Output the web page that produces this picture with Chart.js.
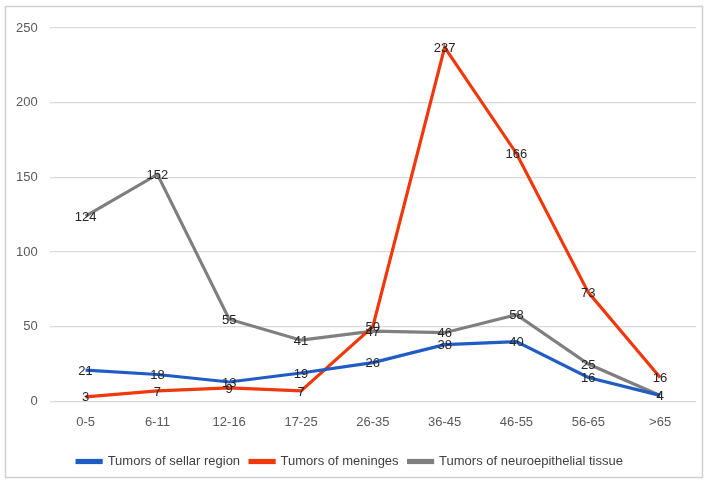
<!DOCTYPE html>
<html>
<head>
<meta charset="utf-8">
<script src="https://cdn.jsdelivr.net/npm/chart.js@4/dist/chart.umd.min.js"></script>
<style>
  html, body { margin: 0; padding: 0; background: #fff; }
  #wrap { position: relative; width: 708px; height: 484px; }
</style>
</head>
<body>
<div id="wrap"><canvas id="c" width="708" height="484"></canvas></div>
<script>
const ageGroups = ['0-5', '6-11', '12-16', '17-25', '26-35', '36-45', '46-55', '56-65', '>65'];
const sellarRegion = [21, 18, 13, 19, 26, 38, 40, 16, 4];
const meninges = [3, 7, 9, 7, 50, 237, 166, 73, 16];
const neuroepithelial = [124, 152, 55, 41, 47, 46, 58, 25, 4];
const yTicks = [0, 50, 100, 150, 200, 250];

const FONT = "'Liberation Sans', Arial, sans-serif";

// Frame around the whole chart
const framePlugin = {
  id: 'frame',
  beforeDraw(chart) {
    const ctx = chart.ctx;
    ctx.save();
    ctx.fillStyle = '#fff';
    ctx.fillRect(0, 0, chart.width, chart.height);
    ctx.strokeStyle = '#d0d0d0';
    ctx.lineWidth = 1.5;
    ctx.strokeRect(5.5, 6.5, 697, 471);
    ctx.restore();
  }
};

// Value labels centred on each point
const valueLabels = {
  id: 'valueLabels',
  afterDatasetsDraw(chart) {
    const ctx = chart.ctx;
    ctx.save();
    ctx.font = '13px ' + FONT;
    ctx.fillStyle = '#262626';
    ctx.textAlign = 'center';
    ctx.textBaseline = 'middle';
    chart.data.datasets.forEach((ds, i) => {
      const meta = chart.getDatasetMeta(i);
      meta.data.forEach((pt, j) => {
        ctx.fillText(String(ds.data[j]), pt.x, pt.y + 1);
      });
    });
    ctx.restore();
  }
};

new Chart(document.getElementById('c'), {
  type: 'line',
  data: {
    labels: ageGroups,
    datasets: [
      { label: 'Tumors of sellar region', data: sellarRegion, borderColor: '#1f5cc4', backgroundColor: '#1f5cc4' },
      { label: 'Tumors of meninges', data: meninges, borderColor: '#f0380c', backgroundColor: '#f0380c' },
      { label: 'Tumors of neuroepithelial tissue', data: neuroepithelial, borderColor: '#7f7f7f', backgroundColor: '#7f7f7f' }
    ].map(d => Object.assign(d, { borderWidth: 3.2, pointRadius: 0, tension: 0, fill: false }))
  },
  options: {
    responsive: false,
    animation: false,
    devicePixelRatio: 1,
    layout: { padding: { left: 4, right: 12, top: 28, bottom: 6 } },
    plugins: {
      legend: {
        position: 'bottom',
        labels: {
          font: { family: FONT, size: 13 },
          color: '#404040',
          boxWidth: 24,
          boxHeight: 2,
          padding: 10
        }
      },
      tooltip: { enabled: false }
    },
    scales: {
      x: {
        offset: true,
        grid: { display: false },
        border: { display: false },
        ticks: { font: { family: FONT, size: 13 }, color: '#595959', padding: 5 },
        afterFit(scale) { scale.height += 10; }
      },
      y: {
        min: 0,
        max: 250,
        afterBuildTicks(scale) { scale.ticks = yTicks.map(v => ({ value: v })); },
        grid: { color: '#d9d9d9', lineWidth: 1.3, drawTicks: false },
        border: { display: false },
        ticks: { font: { family: FONT, size: 13 }, color: '#595959', padding: 12 }
      }
    }
  },
  plugins: [framePlugin, valueLabels]
});
</script>
</body>
</html>
